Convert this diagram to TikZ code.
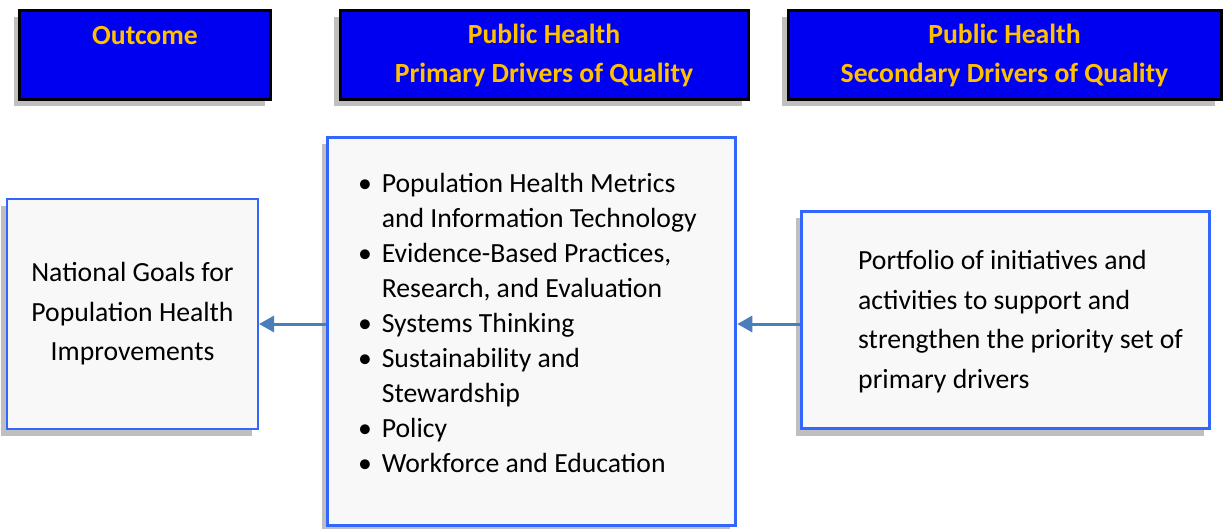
\documentclass[tikz,border=0pt]{standalone}
\usepackage{fontspec}
\setmainfont{Carlito}
\usetikzlibrary{arrows.meta,shadows}
\definecolor{hdrblue}{RGB}{0,0,240}
\definecolor{hdrgold}{RGB}{255,192,0}
\definecolor{boxblue}{RGB}{51,102,255}
\definecolor{arrblue}{RGB}{74,126,187}
\definecolor{boxfill}{RGB}{248,248,248}
\newcommand{\itm}[1]{\makebox[23.6pt][l]{\textbullet}#1}
\newcommand{\cnt}[1]{\hspace*{23.6pt}#1}
\begin{document}
\begin{tikzpicture}[x=1pt, y=-1pt,
  shade/.style={drop shadow={shadow xshift=-6pt, shadow yshift=-7pt, fill=black!25, opacity=1}},
  hdr/.style={shade, draw=black, line width=3pt, fill=hdrblue, text=hdrgold, inner sep=0pt,
    align=center, font=\fontsize{27.7}{39}\selectfont\bfseries, minimum height=89},
  drvbox/.style={shade, draw=boxblue, fill=boxfill, inner sep=0pt},
  txt/.style={inner sep=0pt, font=\fontsize{27.7}{39.5}\selectfont},
  conn/.style={arrblue, line width=3pt, -{Triangle[length=15pt,width=16pt]}}]
\useasboundingbox (0,0) rectangle (1225,529);
\node[hdr, minimum width=251] (hout) at (145,55) {Outcome\\\mbox{}};
\node[hdr, minimum width=408] (hprim) at (544,55) {Public Health\\Primary Drivers of Quality};
\node[hdr, minimum width=433] (hsec) at (1004.5,55) {Public Health\\Secondary Drivers of Quality};
\node[drvbox, line width=2pt, minimum width=251, minimum height=230, txt, align=center] (goals) at (132.5,314)
  {National Goals for\\Population Health\\Improvements};
\node[drvbox, line width=3.5pt, minimum width=408, minimum height=388] (drivers) at (531.5,331.5) {};
\node[drvbox, line width=3.5pt, minimum width=408, minimum height=217] (portfolio) at (1005.5,320) {};
\node[txt, font=\fontsize{27.7}{35}\selectfont, align=left, anchor=west] (drvlist) at (358,322.5)
  {\itm{Population Health Metrics}\\\cnt{and Information Technology}\\
   \itm{Evidence-Based Practices,}\\\cnt{Research, and Evaluation}\\
   \itm{Systems Thinking}\\
   \itm{Sustainability and}\\\cnt{Stewardship}\\
   \itm{Policy}\\
   \itm{Workforce and Education}};
\node[txt, align=left, anchor=west] (portlist) at (858,321.5)
  {Portfolio of initiatives and\\activities to support and\\strengthen the priority set of\\primary drivers};
\draw[conn] ([yshift=7.5pt]drivers.west) -- ([yshift=-10pt]goals.east);
\draw[conn] ([yshift=-4pt]portfolio.west) -- ([yshift=7.5pt]drivers.east);
\end{tikzpicture}
\end{document}
